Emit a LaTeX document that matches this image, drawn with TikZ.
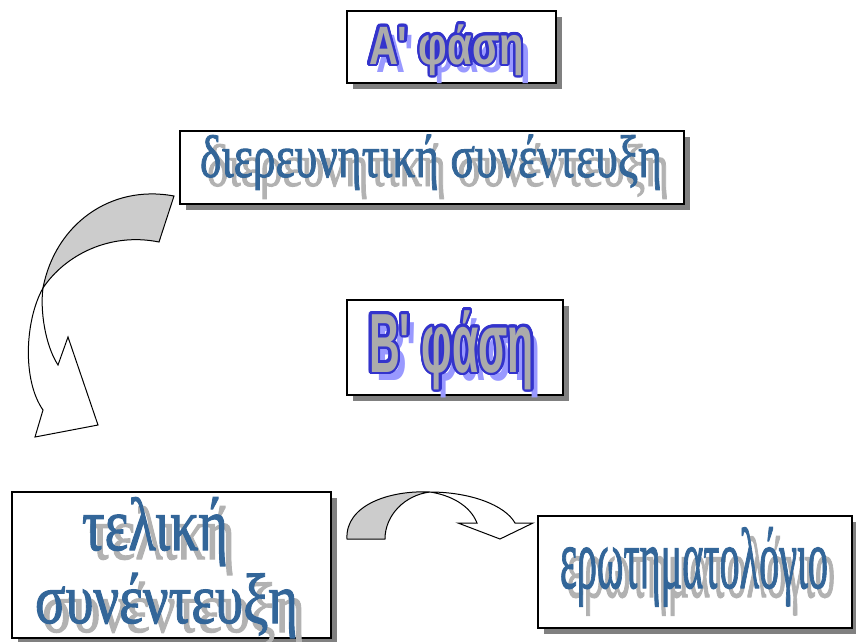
\documentclass[tikz,border=0pt]{standalone}
\usepackage{fontspec}
\usepackage{graphicx}
\usetikzlibrary{shadows,calc}
\newfontfamily\grserif[FakeBold=1.6]{Liberation Serif}
\newfontfamily\grsans{Liberation Sans}
\definecolor{txtblue}{HTML}{336699}
\definecolor{txtshadow}{HTML}{B2B2B2}
\definecolor{outblue}{HTML}{3333CC}
\definecolor{titlefill}{HTML}{ABABAB}
\definecolor{titleshadow}{HTML}{9999FF}
\definecolor{boxshade}{HTML}{808080}
\definecolor{arrowfill}{HTML}{CCCCCC}
\newcommand\fitsans[3]{\resizebox{#1pt}{\height}{\fontsize{#2pt}{#2pt}\grsans\bfseries #3}}
\newcommand\fitserif[3]{\resizebox{#1pt}{\height}{\fontsize{#2pt}{#2pt}\grserif #3}}
\tikzset{
  boxmain/.style={draw=black, line width=1.3pt, fill=white, rectangle, inner sep=0pt,
    drop shadow={shadow xshift=6pt, shadow yshift=-6pt, fill=boxshade, opacity=1}},
  txt/.style={inner sep=0pt, anchor=base},
  arrowgray/.style={draw=black, line width=1pt, fill=arrowfill, line join=miter},
  arrowwhite/.style={draw=black, line width=1pt, fill=white, line join=miter}
}
\newcommand\serifwords[4]{% name, x, y, fitted content
  \node[txt, text=txtshadow] (#1s) at ({#2+7},{#3+9}) {#4};
  \node[txt, text=txtblue] (#1) at (#2,#3) {#4};
}
\newcommand\titlewords[4]{% name, x, y, content
  \node[txt, text=titleshadow] (#1s) at ({#2+7},{#3+8}) {#4};
  \foreach \k in {0,...,23} {
    \node[txt, text=outblue] (#1o\k) at ($(#2,#3)+(\k*15:2.4pt)$) {#4};
  }
  \node[txt, text=titlefill] (#1) at (#2,#3) {#4};
}
\begin{document}
\begin{tikzpicture}[x=1pt,y=-1pt]
\useasboundingbox (0,0) rectangle (856,641);
\fill[white] (0,0) rectangle (856,641);

% boxes
\node[boxmain, minimum width=209pt, minimum height=72pt] (bA) at (451.5,47) {};
\node[boxmain, minimum width=504pt, minimum height=73pt] (bD) at (432,167.5) {};
\node[boxmain, minimum width=216pt, minimum height=95pt] (bB) at (455,347.5) {};
\node[boxmain, minimum width=319pt, minimum height=146pt] (bT) at (171.5,565) {};
\node[boxmain, minimum width=314pt, minimum height=112pt] (bE) at (695,572) {};

% titles
\titlewords{tA}{446.5}{64}{\fitsans{155}{54}{A' φάση}}
\titlewords{tB}{451.5}{372}{\fitsans{165}{84}{B' φάση}}

% serif words
\serifwords{tD}{431}{177}{\fitserif{462}{60}{διερευνητική συνέντευξη}}
\serifwords{tT1}{155}{550}{\fitserif{146}{75}{τελική}}
\serifwords{tT2}{166.5}{623}{\fitserif{263}{71}{συνέντευξη}}
\serifwords{tE}{694}{588}{\fitserif{268}{86}{ερωτηματολόγιο}}

% big curved arrow
\coordinate (c1) at (43,288);
\draw[arrowwhite] (c1) .. controls (25,320) and (22,380) .. (43,410)
   -- (35,437) -- (98,425) -- (68,337) -- (58,365)
   .. controls (45,345) and (40,310) .. (c1) -- cycle;
\draw[arrowgray] (174,196) .. controls (110,184) and (55,225) .. (c1)
   .. controls (65,255) and (110,232) .. (159,242) -- cycle;

% small curved arrow
\coordinate (c2) at (430,492);
\draw[arrowwhite] (c2) .. controls (470,492) and (505,505) .. (515,523)
   -- (533,523) -- (500,539) -- (458,523) -- (477,523)
   .. controls (470,505) and (450,495) .. (c2) -- cycle;
\draw[arrowgray] (347,539) .. controls (345,505) and (390,490) .. (c2)
   .. controls (405,495) and (385,515) .. (385,539) -- cycle;
\end{tikzpicture}
\end{document}
